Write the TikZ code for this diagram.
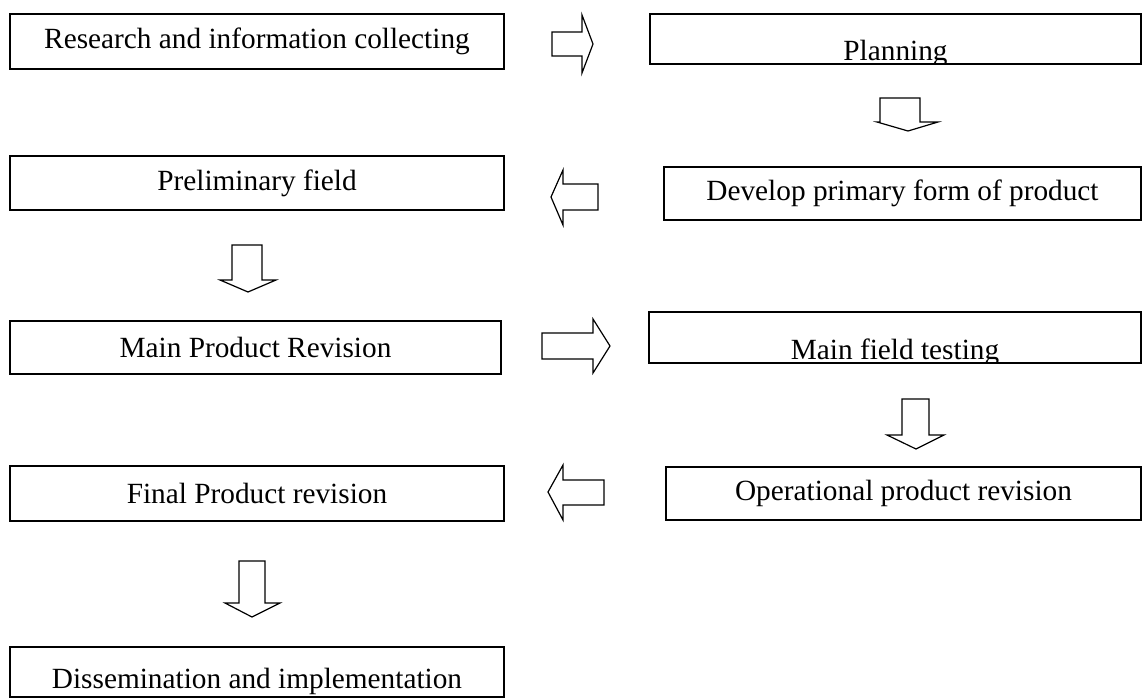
\documentclass[tikz,border=0pt]{standalone}
\usepackage{fontspec}
\setmainfont{Liberation Serif}
\begin{document}
\begin{tikzpicture}[x=1pt,y=-1pt,
  txt/.style={font=\fontsize{29.3}{35}\selectfont},
  box/.style={draw, line width=1.5pt, rectangle, inner sep=0pt, txt},
  lowtext/.style 2 args={path picture={
      \node[txt, anchor=base, inner sep=0pt] at ([yshift=#2pt]path picture bounding box.south) {#1};}},
  blockarrow/.style={draw, line width=1.2pt, line join=miter}]
\useasboundingbox (0,0) rectangle (1143,697);
% boxes
\node[box, minimum width=494pt, minimum height=55pt] (b1) at (257,41.5) {Research and information collecting};
\node[box, minimum width=491pt, minimum height=50pt, lowtext={Planning}{4}] (b2) at (895.5,39) {};
\node[box, minimum width=477pt, minimum height=53pt] (b3) at (902.5,193.5) {Develop primary form of product};
\node[box, minimum width=494pt, minimum height=54pt] (b4) at (257,183) {Preliminary field};
\node[box, minimum width=491pt, minimum height=53pt] (b5) at (255.5,347.5) {Main Product Revision};
\node[box, minimum width=492pt, minimum height=51pt, lowtext={Main field testing}{4}] (b6) at (895,337.5) {};
\node[box, minimum width=475pt, minimum height=53pt] (b7) at (903.5,493.5) {Operational product revision};
\node[box, minimum width=494pt, minimum height=55pt] (b8) at (257,493.5) {Final Product revision};
\node[box, minimum width=494pt, minimum height=50pt, lowtext={Dissemination and implementation}{9}] (b9) at (257,672) {};
% block arrows
\draw[blockarrow] (552,32) -- (582,32) -- (582,15) -- (593,44) -- (582,73) -- (582,56) -- (552,56) -- cycle;
\draw[blockarrow] (880,98) -- (920,98) -- (920,122) -- (938,122) -- (908,131) -- (877,122) -- (880,122) -- cycle;
\draw[blockarrow] (598,184) -- (563,184) -- (563,170) -- (551,197) -- (563,225) -- (563,210) -- (598,210) -- cycle;
\draw[blockarrow] (232,245) -- (262,245) -- (262,280) -- (276,280) -- (248,292) -- (220,280) -- (232,280) -- cycle;
\draw[blockarrow] (542,333) -- (593,333) -- (593,319) -- (610,346) -- (593,373) -- (593,359) -- (542,359) -- cycle;
\draw[blockarrow] (902,399) -- (929,399) -- (929,435) -- (944,435) -- (916,449) -- (887,435) -- (902,435) -- cycle;
\draw[blockarrow] (604,480) -- (563,480) -- (563,465) -- (548,492) -- (563,520) -- (563,505) -- (604,505) -- cycle;
\draw[blockarrow] (239,561) -- (265,561) -- (265,603) -- (280,603) -- (252,617) -- (225,603) -- (239,603) -- cycle;
\end{tikzpicture}
\end{document}
